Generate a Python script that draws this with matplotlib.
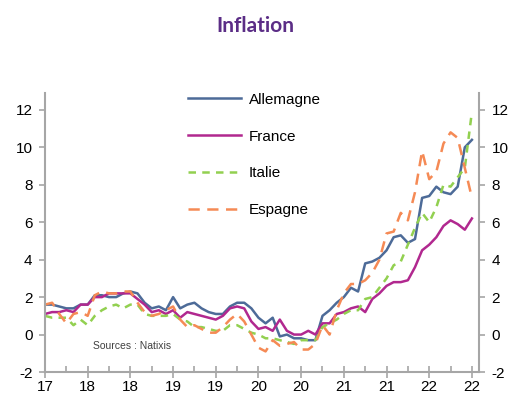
import matplotlib
matplotlib.use("Agg")
import matplotlib.pyplot as plt
import numpy as np

# monthly CPI, y/y %, Oct 2017 -> Oct 2022
allemagne = [1.6, 1.6, 1.5, 1.4, 1.4, 1.6, 1.6, 2.1, 2.1, 2.0, 2.0, 2.2, 2.3, 2.2, 1.7,
             1.4, 1.5, 1.3, 2.0, 1.4, 1.6, 1.7, 1.4, 1.2, 1.1, 1.1, 1.5, 1.7, 1.7, 1.4,
             0.9, 0.6, 0.9, -0.1, 0.0, -0.2, -0.2, -0.3, -0.3, 1.0, 1.3, 1.7, 2.0, 2.5,
             2.3, 3.8, 3.9, 4.1, 4.5, 5.2, 5.3, 4.9, 5.1, 7.3, 7.4, 7.9, 7.6, 7.5, 7.9,
             10.0, 10.4]
france = [1.1, 1.2, 1.2, 1.3, 1.2, 1.6, 1.6, 2.0, 2.0, 2.2, 2.2, 2.2, 2.2, 1.9, 1.6,
          1.2, 1.3, 1.1, 1.3, 0.9, 1.2, 1.1, 1.0, 0.9, 0.8, 1.0, 1.4, 1.5, 1.4, 0.7,
          0.3, 0.4, 0.2, 0.8, 0.2, 0.0, 0.0, 0.2, 0.0, 0.6, 0.6, 1.1, 1.2, 1.4, 1.5,
          1.2, 1.9, 2.2, 2.6, 2.8, 2.8, 2.9, 3.6, 4.5, 4.8, 5.2, 5.8, 6.1, 5.9, 5.6,
          6.2]
italie = [1.0, 0.9, 0.9, 0.9, 0.5, 0.8, 0.5, 1.0, 1.3, 1.5, 1.6, 1.4, 1.6, 1.6, 1.1,
          1.0, 1.0, 1.0, 1.1, 0.8, 0.7, 0.4, 0.4, 0.3, 0.2, 0.2, 0.5, 0.5, 0.3, 0.1,
          0.0, -0.2, -0.2, -0.3, -0.4, -0.5, -0.3, -0.3, -0.3, 0.4, 0.6, 0.8, 1.1,
          1.3, 1.3, 1.9, 2.0, 2.5, 3.0, 3.7, 3.9, 4.8, 5.7, 6.5, 6.0, 6.8, 8.0, 7.9,
          8.4, 8.9, 11.9]
espagne = [1.6, 1.7, 1.1, 0.6, 1.1, 1.2, 1.0, 2.1, 2.3, 2.2, 2.2, 2.3, 2.3, 1.7, 1.2,
           1.0, 1.1, 1.3, 1.5, 0.8, 0.4, 0.5, 0.3, 0.1, 0.1, 0.4, 0.8, 1.1, 0.7, 0.0,
           -0.7, -0.9, -0.3, -0.6, -0.5, -0.4, -0.8, -0.8, -0.5, 0.5, 0.0, 1.3, 2.2,
           2.7, 2.7, 2.9, 3.3, 4.0, 5.4, 5.5, 6.5, 6.1, 7.6, 9.8, 8.3, 8.7, 10.2, 10.8,
           10.5, 8.9, 7.3]
xtick_labels = ["17", "18", "18", "19", "19", "20", "20", "21", "21", "22", "22"]
yticks = [-2, 0, 2, 4, 6, 8, 10, 12]

plt.rcParams['font.family'] = ['Liberation Sans', 'DejaVu Sans']
plt.rcParams['axes.unicode_minus'] = False

fig = plt.figure(figsize=(5.19, 4.01), dpi=100)
ax = fig.add_axes([0.0867, 0.0723, 0.8363, 0.6957])

months = np.arange(len(allemagne))
ax.plot(months, allemagne, color='#4d6b98', lw=1.8, label='Allemagne')
ax.plot(months, france, color='#b1288f', lw=1.8, label='France')
ax.plot(months, italie, color='#92d050', lw=1.8, dashes=(3, 2.5), label='Italie')
ax.plot(months, espagne, color='#f58a55', lw=1.8, dashes=(4.5, 3), label='Espagne')

ax.set_xlim(0, 61)
ax.set_ylim(-2, 12.9)

grey = '#a6a6a6'
for side in ['left', 'right', 'bottom']:
    ax.spines[side].set_color(grey)
    ax.spines[side].set_linewidth(1.5)
ax.spines['top'].set_visible(False)

ax.set_xticks(np.arange(0, 61, 6))
ax.set_xticklabels(xtick_labels)
ax.set_xticks(np.arange(3, 61, 6), minor=True)
ax.set_yticks(yticks)
ax.tick_params(axis='x', which='major', direction='inout', length=8, width=1.2,
               color=grey, labelsize=11, pad=2)
ax.tick_params(axis='x', which='minor', direction='in', length=4, width=1.2, color=grey)
ax.tick_params(axis='y', which='major', direction='out', length=4, width=1.2,
               color=grey, labelsize=11, right=True, labelright=True, pad=5)

ax.text(0.11, 0.095, 'Sources : Natixis', transform=ax.transAxes, fontsize=7.5,
        color='#404040', va='center')

fig.text(0.493, 0.935, 'Inflation', ha='center', va='center', fontsize=15,
         fontweight='bold', color='#5b2d86', family='Lato')

fig.legend(loc='upper left', bbox_to_anchor=(0.362, 0.769), frameon=False,
           fontsize=11, handlelength=3.5, handletextpad=0.5, labelspacing=1.5,
           borderpad=0, borderaxespad=0)

fig.savefig('out.png', dpi=100)
